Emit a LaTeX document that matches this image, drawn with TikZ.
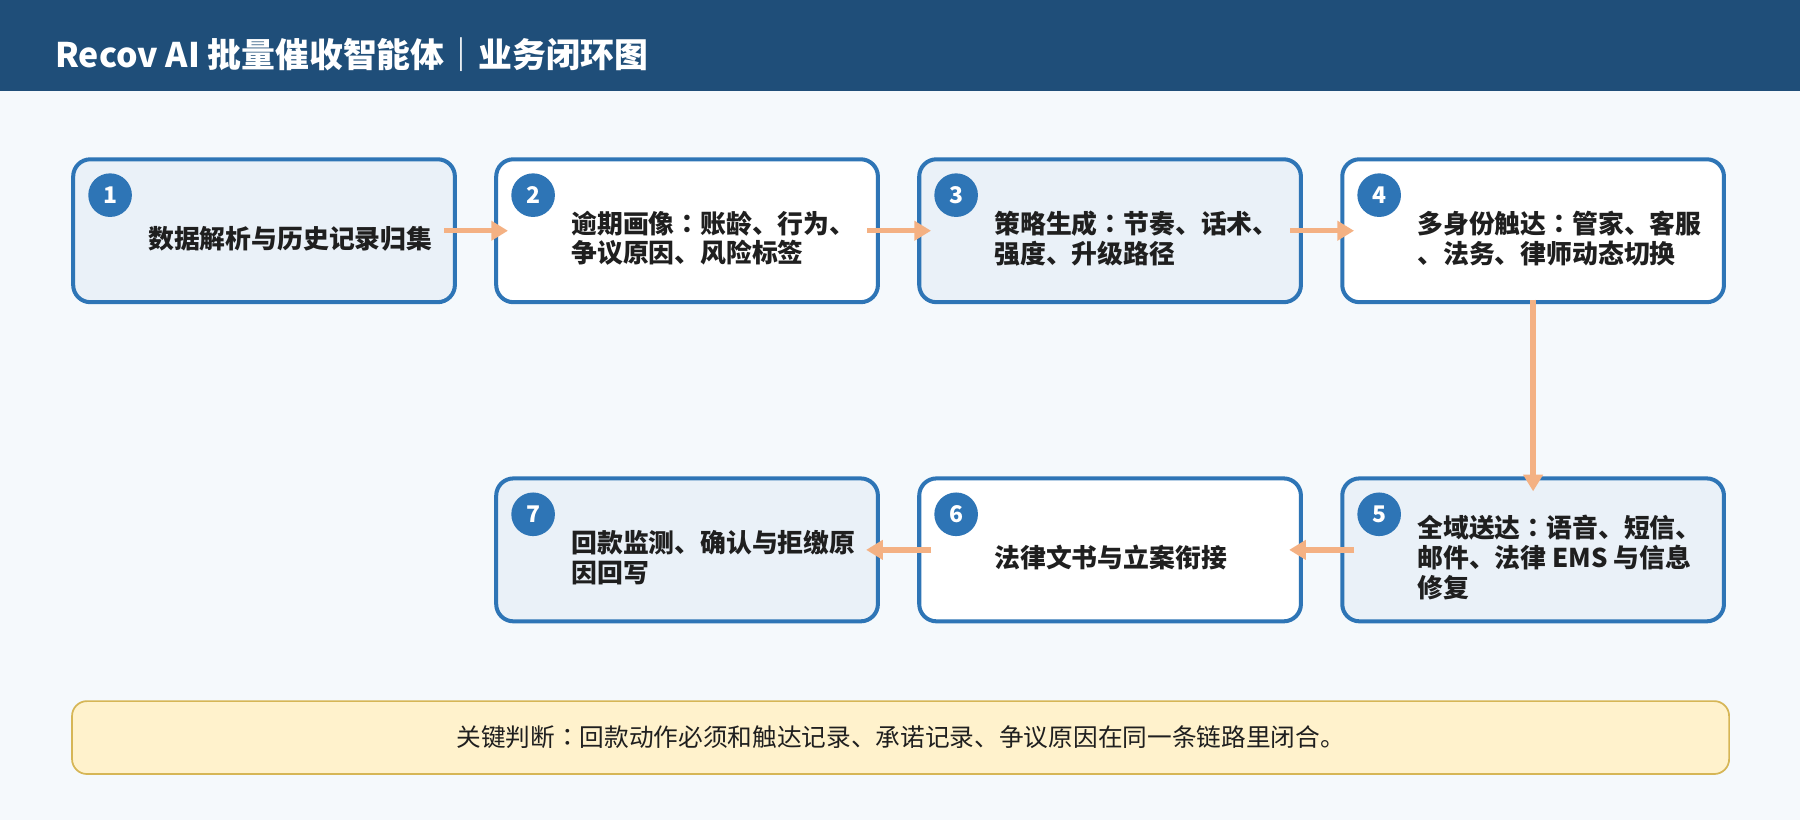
\documentclass[tikz,border=0pt]{standalone}
\usepackage{fontspec}
\setmainfont{Noto Sans CJK SC}
\newfontfamily\jpfont{Noto Sans CJK JP}
\newcommand{\colonjp}{{\jpfont ：}}
\usetikzlibrary{arrows.meta}
\definecolor{hdr}{HTML}{1F4E79}
\definecolor{bg}{HTML}{F5F9FC}
\definecolor{bd}{HTML}{2E75B6}
\definecolor{lf}{HTML}{EAF1F8}
\definecolor{ar}{HTML}{F4B183}
\definecolor{nf}{HTML}{FFF2CC}
\definecolor{nb}{HTML}{D6B656}
\definecolor{tx}{HTML}{1F1F1F}
\begin{document}
\begin{tikzpicture}[x=1pt,y=-1pt,
  card/.style={draw=bd, line width=3.5pt, rounded corners=15pt, minimum width=332.5pt, minimum height=124.5pt, inner sep=0pt},
  cardA/.style={card, fill=lf},
  cardB/.style={card, fill=white},
  num/.style={circle, fill=bd, minimum size=38pt, inner sep=0pt, text=white, font=\fontsize{20}{20}\selectfont\bfseries},
  txt/.style={anchor=west, align=left, inner sep=0pt, text=tx, font=\fontsize{22.5}{26}\selectfont\bfseries},
  arr/.style={draw=ar, line width=4.6pt, -{Triangle[width=16.5pt,length=14.5pt]}},
]
\useasboundingbox (0,0) rectangle (1568,714);
\fill[bg] (0,0) rectangle (1568,714);
\fill[hdr] (0,0) rectangle (1568,79);
\node[anchor=west, inner sep=0pt, text=white, font=\fontsize{29.5}{32}\selectfont\bfseries] (title) at (48,48) {Recov AI 批量催收智能体｜业务闭环图};

% cards
\node[cardA] (b1) at (230,201) {};
\node[cardB] (b2) at (598.5,201) {};
\node[cardA] (b3) at (967,201) {};
\node[cardB] (b4) at (1335.5,201) {};
\node[cardA] (b5) at (1335.5,479) {};
\node[cardB] (b6) at (967,479) {};
\node[cardA] (b7) at (598.5,479) {};

% numbers
\foreach \i in {1,...,7}{
  \node[num] (c\i) at ([xshift=33.9pt,yshift=-33pt]b\i.north west) {\i};
}

% texts
\node[txt] (t1) at ([xshift=67pt,yshift=-6.6pt]b1.west) {数据解析与历史记录归集};
\node[txt] (t2) at ([xshift=67pt,yshift=-6.6pt]b2.west) {逾期画像\colonjp 账龄、行为、\\争议原因、风险标签};
\node[txt] (t3) at ([xshift=67pt,yshift=-6.6pt]b3.west) {策略生成\colonjp 节奏、话术、\\强度、升级路径};
\node[txt] (t4) at ([xshift=67pt,yshift=-6.6pt]b4.west) {多身份触达\colonjp 管家、客服\\、法务、律师动态切换};
\node[txt] (t5) at ([xshift=67pt,yshift=-6.6pt]b5.west) {全域送达\colonjp 语音、短信、\\邮件、法律 EMS 与信息\\修复};
\node[txt] (t6) at ([xshift=67pt,yshift=-6.6pt]b6.west) {法律文书与立案衔接};
\node[txt] (t7) at ([xshift=67pt,yshift=-6.6pt]b7.west) {回款监测、确认与拒缴原\\因回写};

% arrows
\draw[arr] ([xshift=-11pt]b1.east) -- ([xshift=12pt]b2.west);
\draw[arr] ([xshift=-11pt]b2.east) -- ([xshift=12pt]b3.west);
\draw[arr] ([xshift=-11pt]b3.east) -- ([xshift=12pt]b4.west);
\draw[arr] ([yshift=4pt]b4.south) -- ([yshift=-13pt]b5.north);
\draw[arr] ([xshift=12pt]b5.west) -- ([xshift=-12pt]b6.east);
\draw[arr] ([xshift=12pt]b6.west) -- ([xshift=-12pt]b7.east);

% note
\node[draw=nb, fill=nf, line width=1.5pt, rounded corners=13pt, minimum width=1443.5pt, minimum height=63.5pt, inner sep=0pt, text=tx, font=\fontsize{21.5}{24}\selectfont] (note) at (784.5,642.5) {关键判断\colonjp 回款动作必须和触达记录、承诺记录、争议原因在同一条链路里闭合。};
\end{tikzpicture}
\end{document}
